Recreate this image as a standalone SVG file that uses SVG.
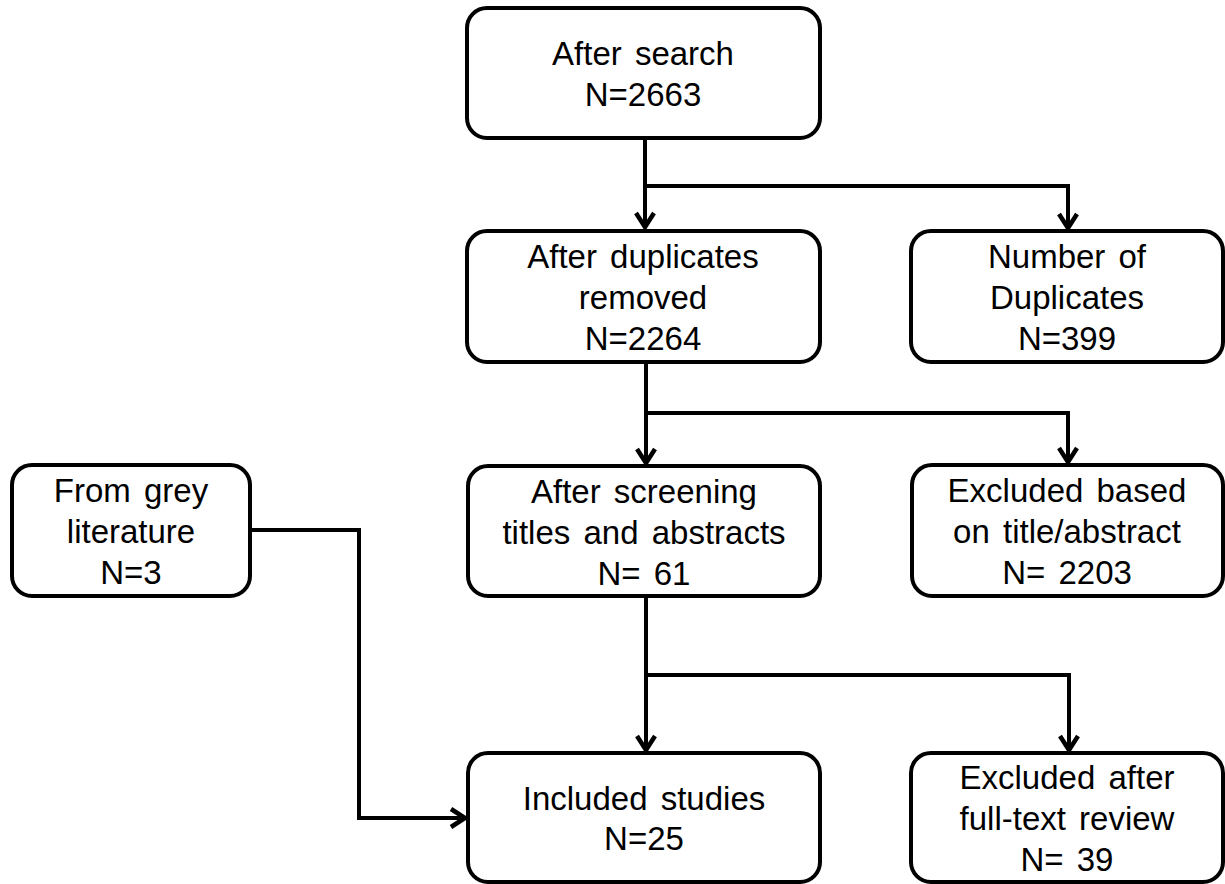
<svg xmlns="http://www.w3.org/2000/svg" width="1225" height="884" viewBox="0 0 1225 884">
<style>
.box{fill:#fff;stroke:#000;stroke-width:4}
.t{font-family:"Liberation Sans",Arial,sans-serif;font-size:33px;fill:#000;text-anchor:middle;word-spacing:4px}
.c{fill:none;stroke:#000;stroke-width:4}
.ah{fill:none;stroke:#000;stroke-width:4.5;stroke-linejoin:miter}
</style>
<rect width="1225" height="884" fill="#fff"/>
<g id="connectors">
<path class="c" d="M645 138V226"/>
<path class="c" d="M645 186H1068V227"/>
<path class="ah" d="M636 213L645 227L654 213"/>
<path class="ah" d="M1059 214L1068 228L1077 214"/>
<path class="c" d="M646 362V462"/>
<path class="c" d="M646 413H1068V461"/>
<path class="ah" d="M637 449L646 463L655 449"/>
<path class="ah" d="M1059 448L1068 462L1077 448"/>
<path class="c" d="M646 596V749"/>
<path class="c" d="M646 675H1069V749"/>
<path class="ah" d="M637 736L646 750L655 736"/>
<path class="ah" d="M1060 736L1069 750L1078 736"/>
<path class="c" d="M250 530H359V818H464"/>
<path class="ah" d="M451 809L465 818L451 827"/>
</g>
<g id="after-search">
<rect class="box" x="467" y="8" width="353" height="130" rx="20"/>
<text class="t" x="643" y="65">After search</text>
<text class="t" x="643" y="106">N=2663</text>
</g>
<g id="after-duplicates">
<rect class="box" x="467" y="231" width="353" height="131" rx="20"/>
<text class="t" x="643" y="268">After duplicates</text>
<text class="t" x="643" y="309">removed</text>
<text class="t" x="643" y="350">N=2264</text>
</g>
<g id="number-duplicates">
<rect class="box" x="911" y="231" width="312" height="131" rx="20"/>
<text class="t" x="1067" y="268">Number of</text>
<text class="t" x="1067" y="309">Duplicates</text>
<text class="t" x="1067" y="350">N=399</text>
</g>
<g id="grey-literature">
<rect class="box" x="12" y="465" width="238" height="131" rx="20"/>
<text class="t" x="131" y="502">From grey</text>
<text class="t" x="131" y="543">literature</text>
<text class="t" x="131" y="584">N=3</text>
</g>
<g id="after-screening">
<rect class="box" x="468" y="466" width="352" height="130" rx="20"/>
<text class="t" x="644" y="503">After screening</text>
<text class="t" x="644" y="544">titles and abstracts</text>
<text class="t" x="644" y="585">N= 61</text>
</g>
<g id="excluded-title">
<rect class="box" x="912" y="465" width="311" height="131" rx="20"/>
<text class="t" x="1067" y="502">Excluded based</text>
<text class="t" x="1067" y="543">on title/abstract</text>
<text class="t" x="1067" y="584">N= 2203</text>
</g>
<g id="included-studies">
<rect class="box" x="468" y="753" width="352" height="129" rx="20"/>
<text class="t" x="644" y="810">Included studies</text>
<text class="t" x="644" y="850">N=25</text>
</g>
<g id="excluded-fulltext">
<rect class="box" x="911" y="753" width="312" height="129" rx="20"/>
<text class="t" x="1067" y="789">Excluded after</text>
<text class="t" x="1067" y="830">full-text review</text>
<text class="t" x="1067" y="871">N= 39</text>
</g>
</svg>
